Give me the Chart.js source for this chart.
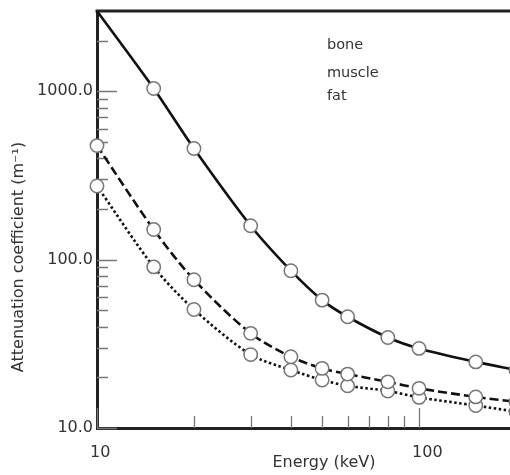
<!DOCTYPE html>
<html>
<head>
<meta charset="utf-8">
<script src="https://cdn.jsdelivr.net/npm/chart.js@4/dist/chart.umd.min.js"></script>
<style>
html,body{margin:0;padding:0;background:#fff;overflow:hidden;}
#wrap{width:520px;height:475px;}
</style>
</head>
<body>
<div id="wrap"><canvas id="c" width="520" height="475"></canvas></div>
<script>
const energies = [10, 15, 20, 30, 40, 50, 60, 80, 100, 150, 200];
const bone   = [3000, 1040, 457, 159, 86, 57.5, 45.8, 34.5, 29.7, 24.7, 22.1];
const muscle = [476, 151, 76, 36.5, 26.5, 22.6, 20.9, 18.8, 17.2, 15.3, 14.3];
const fat    = [274, 90.6, 50.6, 27.3, 22.1, 19.3, 17.8, 16.6, 15.2, 13.6, 12.5];
const seriesNames = ['bone', 'muscle', 'fat'];
const xTickLabels = [10, 100];
const yTickLabels = [10, 100, 1000];
const xMinorTicks = [20, 30, 40, 50, 60, 70, 80, 90];
const yMinorTicks = [20, 30, 40, 50, 60, 70, 80, 90, 200, 300, 400, 500, 600, 700, 800, 900, 2000];
const xTitle = 'Energy (keV)';
const yTitle = 'Attenuation coefficient (m\u207B\u00B9)';

Chart.defaults.font.family = '"DejaVu Sans", sans-serif';
Chart.defaults.color = '#333';

const pts = arr => energies.map((e, i) => ({x: e, y: arr[i]}));
const markerStyle = {
  pointRadius: ctx => (ctx.datasetIndex === 0 && ctx.dataIndex === 0) ? 0 : 6.7,
  pointBackgroundColor: '#fff',
  pointBorderColor: '#777',
  pointBorderWidth: 1.5,
  borderColor: '#111',
  borderWidth: 2.6,
  tension: 0.3,
  clip: false,
  fill: false
};

const decor = {
  id: 'decor',
  beforeDatasetsDraw(chart) {
    const {ctx, chartArea: a, scales: {x, y}} = chart;
    ctx.save();
    ctx.strokeStyle = '#777';
    ctx.lineWidth = 1.3;
    ctx.beginPath();
    yTickLabels.forEach(v => { const p = Math.round(y.getPixelForValue(v)) + 0.5; ctx.moveTo(a.left, p); ctx.lineTo(a.left + 20, p); });
    yMinorTicks.forEach(v => { const p = Math.round(y.getPixelForValue(v)) + 0.5; ctx.moveTo(a.left, p); ctx.lineTo(a.left + 11, p); });
    xTickLabels.forEach(v => { const p = Math.round(x.getPixelForValue(v)) + 0.5; ctx.moveTo(p, a.bottom); ctx.lineTo(p, a.bottom - 20); });
    xMinorTicks.forEach(v => { const p = Math.round(x.getPixelForValue(v)) + 0.5; ctx.moveTo(p, a.bottom); ctx.lineTo(p, a.bottom - 12); });
    ctx.stroke();
    ctx.strokeStyle = '#222';
    ctx.lineWidth = 3;
    ctx.beginPath();
    ctx.moveTo(a.left - 1.5, a.top);
    ctx.lineTo(a.right + 10, a.top);
    ctx.stroke();
    ctx.restore();
  },
  afterDraw(chart) {
    const {ctx} = chart;
    ctx.save();
    ctx.fillStyle = '#333';
    ctx.textBaseline = 'middle';
    ctx.textAlign = 'left';
    ctx.font = '14.5px "DejaVu Sans"';
    const legendY = [45, 73, 96];
    chart.data.datasets.forEach((d, i) => ctx.fillText(d.label, 327, legendY[i]));
    ctx.font = '16px "DejaVu Sans"';
    ctx.textAlign = 'center';
    ctx.fillText(xTitle, 324, 463);
    ctx.translate(19, 257);
    ctx.rotate(-Math.PI / 2);
    ctx.fillText(yTitle, 0, 0);
    ctx.restore();
  }
};

new Chart(document.getElementById('c'), {
  type: 'line',
  data: {
    datasets: [
      Object.assign({label: seriesNames[0], data: pts(bone)}, markerStyle),
      Object.assign({label: seriesNames[1], data: pts(muscle), borderDash: [9, 4]}, markerStyle),
      Object.assign({label: seriesNames[2], data: pts(fat), borderDash: [2.5, 2.5]}, markerStyle)
    ]
  },
  options: {
    responsive: false,
    animation: false,
    layout: {autoPadding: false, padding: {top: 11, right: 4, left: 0, bottom: 0}},
    plugins: {legend: {display: false}, tooltip: {enabled: false}},
    scales: {
      x: {
        type: 'logarithmic', min: 10, max: 200,
        grid: {display: false, drawTicks: false},
        border: {display: true, color: '#222', width: 3},
        afterFit: s => { s.height = 47; s.paddingLeft = 0; s.paddingRight = 0; },
        afterBuildTicks: s => { s.ticks = xTickLabels.map(v => ({value: v})); },
        ticks: {padding: 15, font: {size: 16}, color: '#333', maxRotation: 0, autoSkip: false, align: 'start', labelOffset: -7, callback: v => String(v)}
      },
      y: {
        type: 'logarithmic', min: 10, max: 3000,
        grid: {display: false, drawTicks: false},
        border: {display: true, color: '#222', width: 3},
        afterFit: s => { s.width = 97; s.paddingTop = 0; s.paddingBottom = 0; },
        afterBuildTicks: s => { s.ticks = yTickLabels.map(v => ({value: v})); },
        ticks: {padding: 4, font: {size: 16}, color: '#333', autoSkip: false, callback: v => Number(v).toFixed(1)}
      }
    }
  },
  plugins: [decor]
});
</script>
</body>
</html>
